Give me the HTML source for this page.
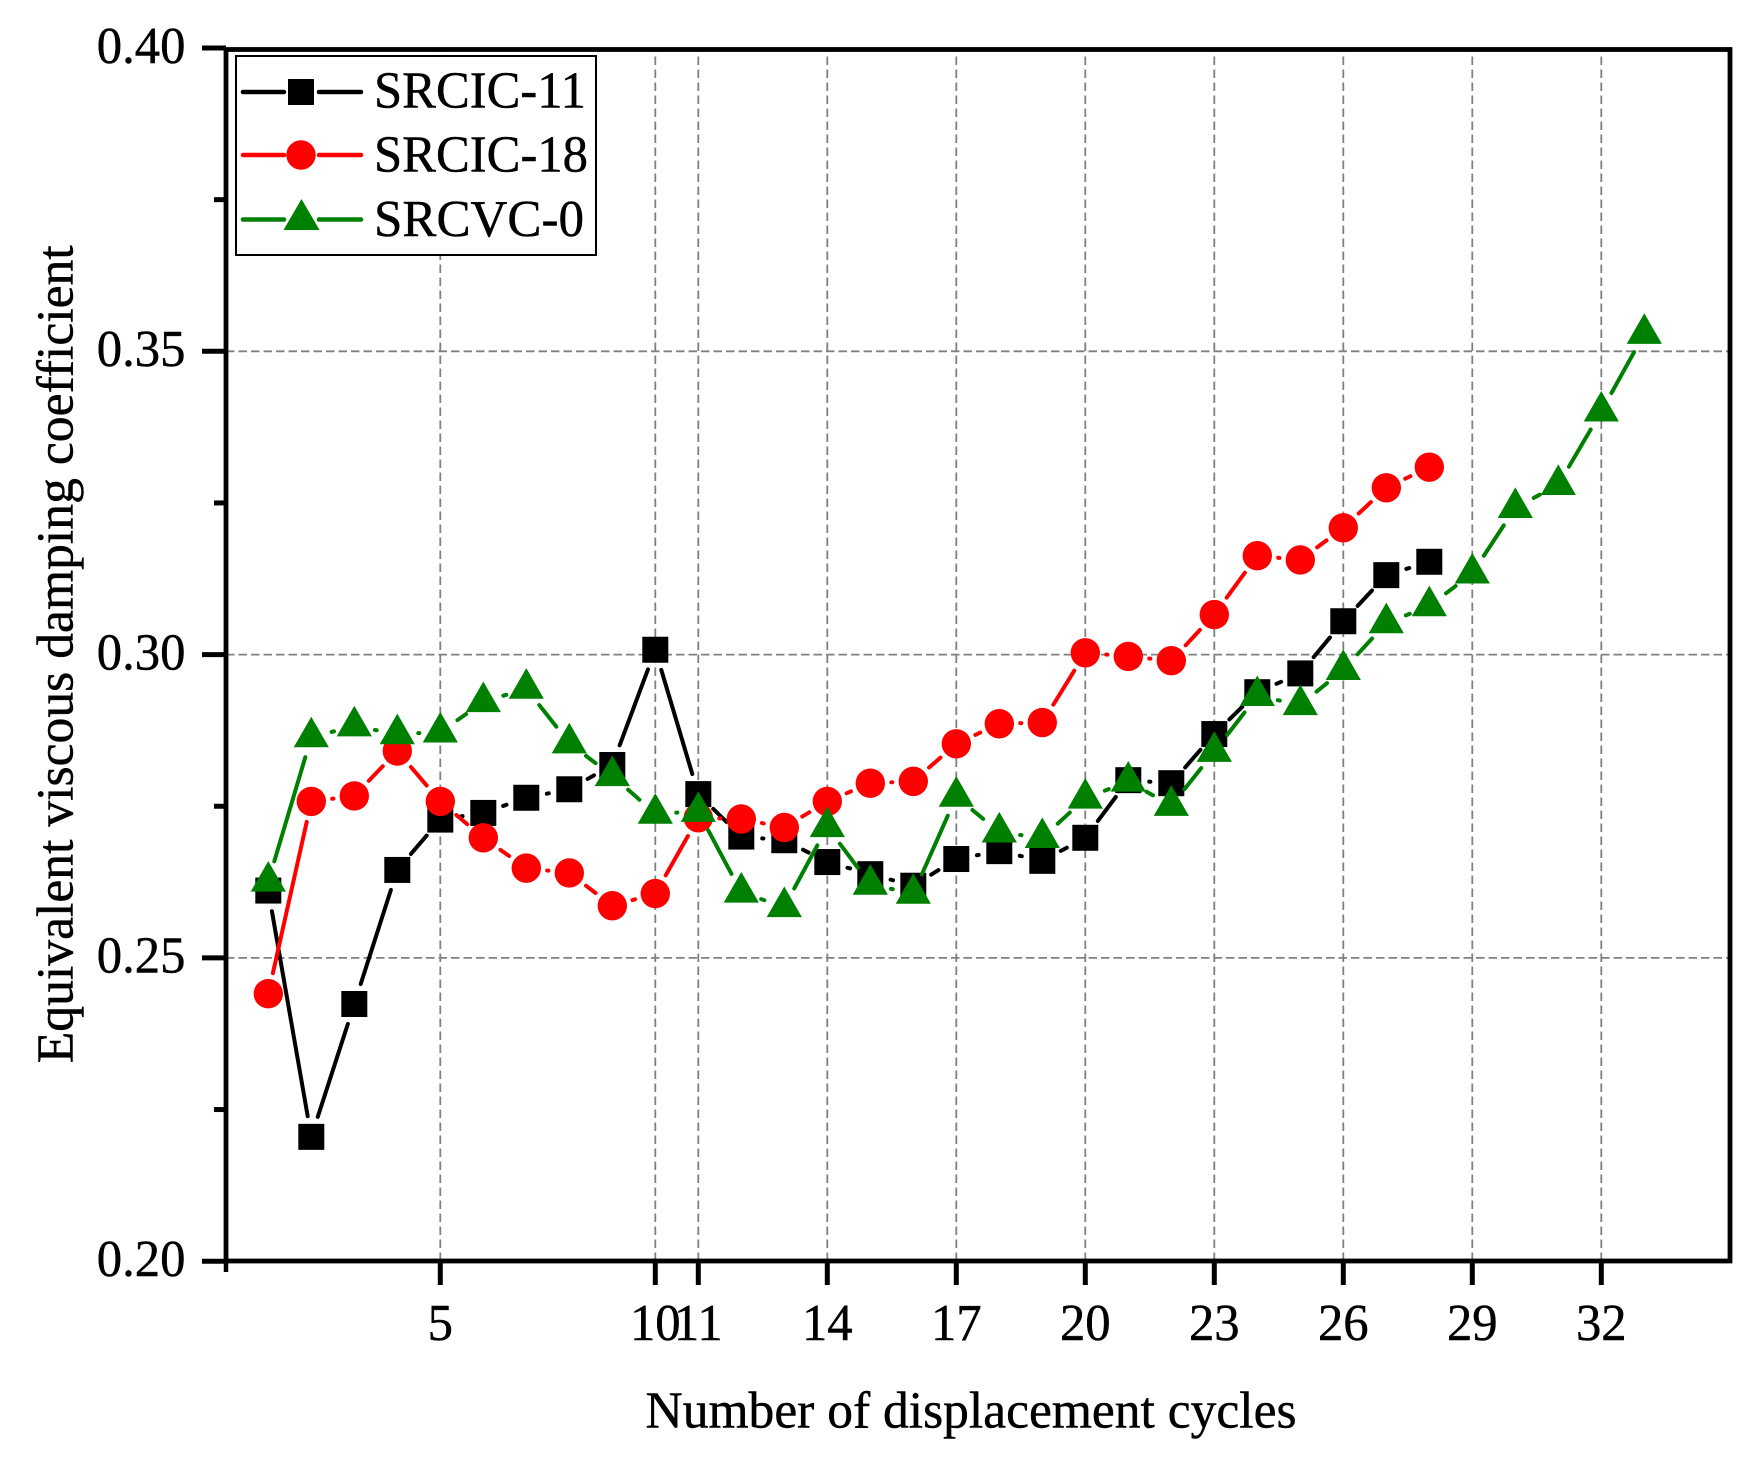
<!DOCTYPE html>
<html lang="en">
<head>
<meta charset="utf-8">
<title>Equivalent viscous damping coefficient chart</title>
<style>
html,body{margin:0;padding:0;background:#fff;}
svg{display:block;}
text{font-family:"Liberation Serif","Times New Roman",serif;fill:#000;stroke:#000;stroke-width:0.45px;}
</style>
</head>
<body>
<svg id="chart" xmlns="http://www.w3.org/2000/svg" width="1764" height="1462" viewBox="0 0 1764 1462">
  <rect x="0" y="0" width="1764" height="1462" fill="#fff"/>
  <g id="grid"></g>
  <g id="series"></g>
  <rect x="226" y="49.5" width="1504" height="1211.5" fill="none" stroke="#000" stroke-width="4.8"/>
  <g id="axes"></g>
  <text transform="translate(72.3,654.3) rotate(-90)" text-anchor="middle" font-size="52" textLength="818" lengthAdjust="spacingAndGlyphs">Equivalent viscous damping coefficient</text>
  <text x="971" y="1427.5" text-anchor="middle" font-size="52" textLength="651" lengthAdjust="spacingAndGlyphs">Number of displacement cycles</text>
  <g>
    <rect x="236" y="56" width="360" height="199" fill="#fff" stroke="#000" stroke-width="2"/>
    <g>
      <line x1="243" y1="92" x2="284" y2="92" stroke="#000" stroke-width="4.5" stroke-linecap="round"/>
      <line x1="319" y1="92" x2="361" y2="92" stroke="#000" stroke-width="4.5" stroke-linecap="round"/>
      <rect x="288" y="79" width="26" height="26" fill="#000"/>
      <text x="374" y="107.5" font-size="52" textLength="212" lengthAdjust="spacingAndGlyphs">SRCIC-11</text>
    </g>
    <g>
      <line x1="243" y1="155" x2="284" y2="155" stroke="#f00" stroke-width="4.5" stroke-linecap="round"/>
      <line x1="319" y1="155" x2="361" y2="155" stroke="#f00" stroke-width="4.5" stroke-linecap="round"/>
      <circle cx="301" cy="155" r="14.7" fill="#f00"/>
      <text x="374" y="171.5" font-size="52" textLength="214" lengthAdjust="spacingAndGlyphs">SRCIC-18</text>
    </g>
    <g>
      <line x1="243" y1="219.5" x2="284" y2="219.5" stroke="#008000" stroke-width="4.5" stroke-linecap="round"/>
      <line x1="319" y1="219.5" x2="361" y2="219.5" stroke="#008000" stroke-width="4.5" stroke-linecap="round"/>
      <polygon points="301.5,199 319.5,230 283.5,230" fill="#008000"/>
      <text x="374" y="236" font-size="52" textLength="210" lengthAdjust="spacingAndGlyphs">SRCVC-0</text>
    </g>
  </g>
</svg>
<script>
var xTickValues = [5, 10, 11, 14, 17, 20, 23, 26, 29, 32];
var yMajorTicks = [0.20, 0.25, 0.30, 0.35, 0.40];
var yMinorTicks = [0.225, 0.275, 0.325, 0.375];
var yGridValues = [0.25, 0.30, 0.35];
var srcic11Values = [0.2611, 0.2205, 0.2424, 0.2645, 0.2728, 0.2739, 0.2764, 0.2778, 0.2818, 0.3008, 0.2770, 0.2700, 0.2694, 0.2658, 0.2638, 0.2619, 0.2663, 0.2676, 0.2660, 0.2698, 0.2793, 0.2788, 0.2869, 0.2938, 0.2969, 0.3055, 0.3131, 0.3153];
var srcic18Values = [0.2441, 0.2758, 0.2767, 0.2841, 0.2758, 0.2698, 0.2648, 0.2640, 0.2586, 0.2606, 0.2731, 0.2729, 0.2715, 0.2758, 0.2788, 0.2791, 0.2853, 0.2886, 0.2888, 0.3003, 0.2997, 0.2990, 0.3066, 0.3163, 0.3156, 0.3209, 0.3275, 0.3309];
var srcvc0Values = [0.2626, 0.2864, 0.2882, 0.2869, 0.2872, 0.2922, 0.2944, 0.2854, 0.2800, 0.2738, 0.2741, 0.2608, 0.2584, 0.2716, 0.2621, 0.2606, 0.2766, 0.2707, 0.2698, 0.2763, 0.2791, 0.2751, 0.2840, 0.2932, 0.2917, 0.2975, 0.3052, 0.3080, 0.3134, 0.3242, 0.3280, 0.3401, 0.3529];

var NS = 'http://www.w3.org/2000/svg';
var gridLayer = document.getElementById('grid');
var seriesLayer = document.getElementById('series');
var axesLayer = document.getElementById('axes');
var MARKER_GAP = 21;

function xScale(n) { return 225.3 + 43.0 * n; }
function yScale(v) { return 1261.2 - (v - 0.2) * 6066; }

function make(tag, parent, attrs) {
  var el = document.createElementNS(NS, tag);
  for (var k in attrs) { el.setAttribute(k, attrs[k]); }
  parent.appendChild(el);
  return el;
}

yGridValues.forEach(function (v) {
  var g = make('line', gridLayer, { x1: 226, x2: 1730, y1: yScale(v), y2: yScale(v), stroke: '#808080', 'stroke-width': 1.8, 'stroke-dasharray': '8.5 4' });
  
  
});
xTickValues.forEach(function (n) {
  var g = make('line', gridLayer, { x1: xScale(n), x2: xScale(n), y1: 1261, y2: 49, stroke: '#808080', 'stroke-width': 1.8, 'stroke-dasharray': '8.5 4.5' });
  
  
});

function drawSeries(values, color, shape, name) {
  var group = make('g', seriesLayer, {});
  
  
  var i;
  for (i = 0; i < values.length - 1; i++) {
    var x1 = xScale(i + 1), y1 = yScale(values[i]);
    var x2 = xScale(i + 2), y2 = yScale(values[i + 1]);
    var dx = x2 - x1, dy = y2 - y1;
    var len = Math.sqrt(dx * dx + dy * dy);
    if (len > 2 * MARKER_GAP) {
      var ux = dx / len, uy = dy / len;
      var seg = make('line', group, {
        x1: x1 + ux * MARKER_GAP, y1: y1 + uy * MARKER_GAP,
        x2: x2 - ux * MARKER_GAP, y2: y2 - uy * MARKER_GAP,
        stroke: color, 'stroke-width': 4, 'stroke-linecap': 'round'
      });
      
      
    }
  }
  for (i = 0; i < values.length; i++) {
    var cx = xScale(i + 1), cy = yScale(values[i]);
    var m;
    if (shape === 'square') {
      m = make('rect', group, { x: cx - 13, y: cy - 13, width: 26, height: 26, fill: color });
    } else if (shape === 'circle') {
      m = make('circle', group, { cx: cx, cy: cy, r: 14.7, fill: color });
    } else {
      m = make('polygon', group, { points: cx + ',' + (cy - 20.4) + ' ' + (cx + 17.6) + ',' + (cy + 10.2) + ' ' + (cx - 17.6) + ',' + (cy + 10.2), fill: color });
    }
    
    
  }
}
drawSeries(srcic11Values, '#000000', 'square', 'srcic-11');
drawSeries(srcic18Values, '#ff0000', 'circle', 'srcic-18');
drawSeries(srcvc0Values, '#008000', 'triangle', 'srcvc-0');

function label(str, x, y, anchor) {
  var t = make('text', axesLayer, { transform: 'translate(' + x + ',' + y + ') scale(0.975,1)', 'text-anchor': anchor, 'font-size': 52 });
  t.textContent = str;
  return t;
}

yMajorTicks.forEach(function (v) {
  var t = make('line', axesLayer, { x1: 202, x2: 226, y1: yScale(v), y2: yScale(v), stroke: '#000', 'stroke-width': 5 });
  
  
  var l = label(v.toFixed(2), 185.5, yScale(v) + 14.8, 'end');
  
  
});
yMinorTicks.forEach(function (v) {
  var t = make('line', axesLayer, { x1: 214, x2: 226, y1: yScale(v), y2: yScale(v), stroke: '#000', 'stroke-width': 5 });
  
  
});
xTickValues.forEach(function (n) {
  var t = make('line', axesLayer, { x1: xScale(n), x2: xScale(n), y1: 1261, y2: 1285, stroke: '#000', 'stroke-width': 5 });
  
  
  var l = label(String(n), xScale(n), 1340, 'middle');
  
  
});
var originTick = make('line', axesLayer, { x1: 226, x2: 226, y1: 1261, y2: 1272, stroke: '#000', 'stroke-width': 4.5 });


</script>
</body>
</html>
